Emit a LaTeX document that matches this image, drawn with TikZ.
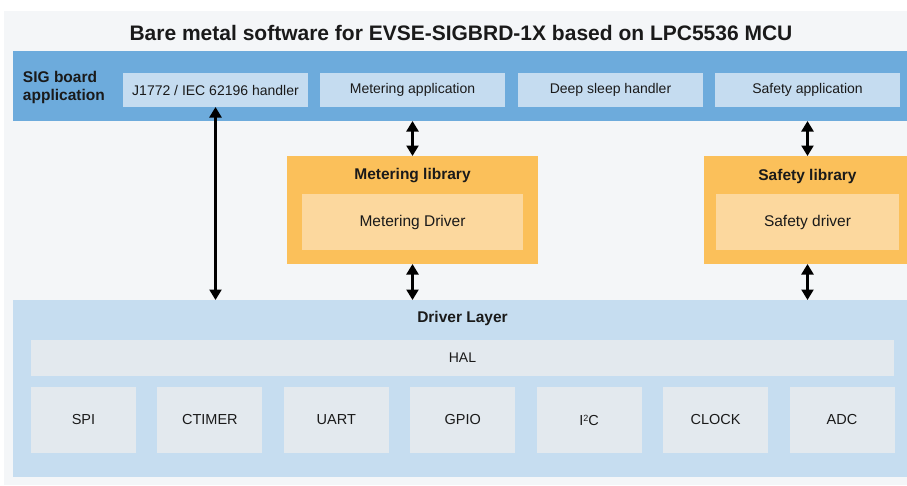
\documentclass[tikz,border=0pt]{standalone}
\usepackage{fontspec}
\setmainfont{Liberation Sans}
\usetikzlibrary{arrows.meta}
\definecolor{bgpanel}{HTML}{F4F6F8}
\definecolor{band}{HTML}{6DABDC}
\definecolor{lblue}{HTML}{C5DCF0}
\definecolor{dlayer}{HTML}{C6DDF0}
\definecolor{grayb}{HTML}{E3E9EE}
\definecolor{myorange}{HTML}{FBC05A}
\definecolor{lorange}{HTML}{FCD89E}
\definecolor{ink}{HTML}{1A1A1A}
\begin{document}
\begin{tikzpicture}[x=1pt,y=-1pt,
  plain/.style={inner sep=0pt, outer sep=0pt, text=ink, font=\fontsize{14}{16}\selectfont},
  boldtxt/.style={inner sep=0pt, outer sep=0pt, text=ink, font=\fontsize{15.5}{18}\selectfont\bfseries},
  appbox/.style={plain, fill=lblue, minimum width=185pt, minimum height=34pt},
  libouter/.style={inner sep=0pt, outer sep=0pt, fill=myorange, minimum height=108pt},
  libinner/.style={plain, font=\fontsize{15.5}{18}\selectfont, fill=lorange, minimum height=56pt},
  periph/.style={plain, font=\fontsize{14.5}{17}\selectfont, fill=grayb, minimum width=105pt, minimum height=66pt},
  conn/.style={line width=2.3pt, draw=black, {Triangle[width=12pt,length=10.5pt]}-{Triangle[width=12pt,length=10.5pt]}}
]
\useasboundingbox (0,0) rectangle (907,485);
\fill[bgpanel] (4,11) rectangle (907,485);

% title
\node[inner sep=0pt, text=ink, font=\fontsize{21}{24}\selectfont\bfseries] (title) at (461,33) {Bare metal software for EVSE-SIGBRD-1X based on LPC5536 MCU};

% SIG board band
\node[inner sep=0pt, outer sep=0pt, fill=band, minimum width=899pt, minimum height=70pt] (sig) at (462.5,86) {};
\node[boldtxt, anchor=west, align=left] (sigtxt) at (23,87) {SIG board\\application};
\node[appbox] (j1772) at (215.5,90) {J1772 / IEC 62196 handler};
\node[appbox] (metapp) at (412.5,90) {Metering application};
\node[appbox] (sleep) at (610.5,90) {Deep sleep handler};
\node[appbox] (safeapp) at (807.5,90) {Safety application};

% libraries
\node[libouter, minimum width=251pt] (metlib) at (412.5,210) {};
\node[boldtxt] (metlibtxt) at (412.5,176) {Metering library};
\node[libinner, minimum width=221pt] (metdrv) at (412.5,222) {Metering Driver};

\node[libouter, minimum width=207pt] (safelib) at (807.5,210) {};
\node[boldtxt] (safelibtxt) at (807.5,176) {Safety library};
\node[libinner, minimum width=183pt] (safedrv) at (807.5,222) {Safety driver};

% driver layer
\node[inner sep=0pt, outer sep=0pt, fill=dlayer, minimum width=899pt, minimum height=177pt] (driver) at (462.5,388.5) {};
\node[boldtxt] (drvtxt) at (462.5,318) {Driver Layer};
\node[plain, fill=grayb, minimum width=863pt, minimum height=36pt] (hal) at (462.5,358) {HAL};

\node[periph] (spi) at (83.5,420) {SPI};
\node[periph] (ctimer) at (209.9,420) {CTIMER};
\node[periph] (uart) at (336.3,420) {UART};
\node[periph] (gpio) at (462.8,420) {GPIO};
\node[periph] (i2c) at (589.2,420) {I\raisebox{4pt}{\fontsize{9}{9}\selectfont 2}C};
\node[periph] (clock) at (715.6,420) {CLOCK};
\node[periph] (adc) at (842,420) {ADC};

% connectors
\draw[conn] (j1772.south) -- (j1772.south |- driver.north);
\draw[conn] (metlib.north |- sig.south) -- (metlib.north);
\draw[conn] (metlib.south) -- (metlib.south |- driver.north);
\draw[conn] (safelib.north |- sig.south) -- (safelib.north);
\draw[conn] (safelib.south) -- (safelib.south |- driver.north);
\end{tikzpicture}
\end{document}
